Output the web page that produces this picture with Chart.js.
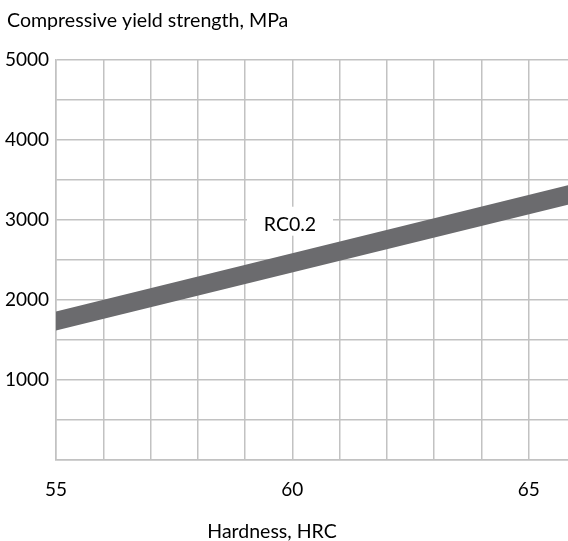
<!DOCTYPE html>
<html>
<head>
<meta charset="utf-8">
<script src="https://cdn.jsdelivr.net/npm/chart.js@4/dist/chart.umd.min.js"></script>
<style>
    html, body { margin: 0; padding: 0; background: #fff; overflow: hidden; }
    #wrap { width: 594px; height: 541px; }
</style>
</head>
<body>
<div id="wrap"><canvas id="yieldChart" width="594" height="541"></canvas></div>
<script>
// Hardness (HRC) at the two ends of the band
const hardness = [55, 66];
// Band edges, compressive yield strength in MPa
const upperEdge = [1856, 3460];
const lowerEdge = [1618, 3217];
const xTickLabels = [55, 60, 65];
const yTickLabels = [1000, 2000, 3000, 4000, 5000];
const bandLabel = 'RC0.2';
const yTitle = 'Compressive yield strength, MPa';
const xTitle = 'Hardness, HRC';

const FONT = 'Lato, "Open Sans", sans-serif';
const gridColor = '#c2c2c2';
const bandColor = '#6b6b6e';

const toPoints = (ys) => hardness.map((x, i) => ({ x: x, y: ys[i] }));

// Draws the axis titles and the band label
const textPlugin = {
    id: 'textPlugin',
    afterDraw(chart) {
        const ctx = chart.ctx;
        const xs = chart.scales.x;
        const ys = chart.scales.y;
        ctx.save();
        ctx.fillStyle = '#000';
        ctx.font = '19.6px ' + FONT;
        ctx.textAlign = 'left';
        ctx.textBaseline = 'alphabetic';
        ctx.fillText(yTitle, 7, 27);

        ctx.textAlign = 'center';
        ctx.font = '19.5px ' + FONT;
        ctx.fillText(xTitle, 272, 538);

        // label box over the grid
        const cx = xs.getPixelForValue(59.95);
        const cy = ys.getPixelForValue(2941);
        ctx.fillStyle = '#fff';
        ctx.fillRect(cx - 43, cy - 18, 86, 29);
        ctx.fillStyle = '#000';
        ctx.font = '19.5px ' + FONT;
        ctx.textBaseline = 'middle';
        ctx.fillText(bandLabel, cx, cy);
        ctx.restore();
    }
};

const chartCtx = document.getElementById('yieldChart');
new Chart(chartCtx, {
    type: 'line',
    data: {
        datasets: [
            {
                label: 'upper',
                data: toPoints(upperEdge),
                borderColor: bandColor,
                borderWidth: 0,
                pointRadius: 0,
                fill: false
            },
            {
                label: 'lower',
                data: toPoints(lowerEdge),
                borderColor: bandColor,
                backgroundColor: bandColor,
                borderWidth: 0,
                pointRadius: 0,
                fill: '-1'
            }
        ]
    },
    options: {
        responsive: false,
        animation: false,
        layout: { padding: { top: 60, right: 8, left: 0, bottom: 0 } },
        plugins: {
            legend: { display: false },
            tooltip: { enabled: false },
            title: { display: false }
        },
        scales: {
            x: {
                type: 'linear',
                min: 55,
                max: 66,
                grid: { color: gridColor, lineWidth: 1.5, drawTicks: false },
                border: { color: gridColor, width: 1.5 },
                ticks: {
                    stepSize: 1,
                    padding: 18,
                    color: '#000',
                    font: { family: FONT, size: 19 },
                    maxRotation: 0,
                    autoSkip: false,
                    callback: (v) => xTickLabels.includes(v) ? String(v) : ''
                },
                afterFit: (scale) => { scale.height = 81; }
            },
            y: {
                min: 0,
                max: 5000,
                grid: { color: gridColor, lineWidth: 1.5, drawTicks: false },
                border: { color: gridColor, width: 1.5 },
                ticks: {
                    stepSize: 500,
                    padding: 7,
                    color: '#000',
                    font: { family: FONT, size: 19 },
                    callback: (v) => yTickLabels.includes(v) ? String(v) : ''
                },
                afterFit: (scale) => { scale.width = 56; }
            }
        }
    },
    plugins: [textPlugin]
});
</script>
</body>
</html>
